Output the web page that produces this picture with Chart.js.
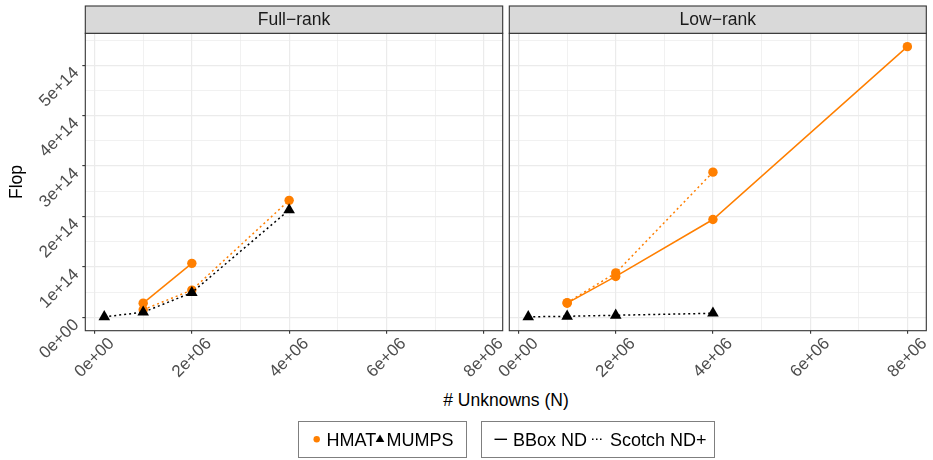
<!DOCTYPE html>
<html><head><meta charset="utf-8">
<script src="https://cdn.jsdelivr.net/npm/chart.js@4/dist/chart.umd.min.js"></script>
<style>
html,body{margin:0;padding:0;background:#fff;}
#wrap{position:relative;width:933px;height:460px;overflow:hidden;font-family:"Liberation Sans",Arial,sans-serif;}
canvas{position:absolute;left:0;top:0;}
.t{position:absolute;white-space:nowrap;font-size:17.5px;line-height:20px;color:#000;}
.lg{font-size:18px;}
.box{position:absolute;border:1.2px solid #7f7f7f;box-sizing:border-box;}
svg{position:absolute;overflow:visible;}
</style></head><body>
<div id="wrap">
<canvas id="c1" width="933" height="390"></canvas>
<canvas id="c2" width="933" height="390"></canvas>
<div class="t" style="left:406px;width:200px;text-align:center;top:389.5px"># Unknowns (N)</div>
<div class="box" style="left:298px;top:420.5px;width:169px;height:37px"></div>
<svg style="left:0;top:0" width="933" height="460">
  <circle cx="316.7" cy="439.3" r="3.2" fill="#FF7F00"/>
  <polygon points="380,434.5 384.3,442 375.7,442" fill="#000"/>
  <line x1="494.5" y1="439.3" x2="507" y2="439.3" stroke="#000" stroke-width="1.4"/>
  <line x1="592" y1="439.3" x2="604" y2="439.3" stroke="#000" stroke-width="1.4" stroke-dasharray="1.5 2.5"/>
</svg>
<div class="t lg" style="left:326.5px;top:429.5px">HMAT</div>
<div class="t lg" style="left:386.5px;top:429.5px">MUMPS</div>
<div class="box" style="left:480.5px;top:420.5px;width:234px;height:37px"></div>
<div class="t lg" style="left:513px;top:429.5px">BBox ND</div>
<div class="t lg" style="left:610px;top:429.5px">Scotch ND+</div>
</div>
<script>
// ---- tick definitions ----
const xMajorTicks = [0, 2e6, 4e6, 6e6, 8e6];
const xTickLabels = ['0e+00', '2e+06', '4e+06', '6e+06', '8e+06'];
const xMinorTicks = [1e6, 3e6, 5e6, 7e6];
const yMajorTicks = [0, 1e14, 2e14, 3e14, 4e14, 5e14];
const yTickLabels = ['0e+00', '1e+14', '2e+14', '3e+14', '4e+14', '5e+14'];
const yMinorTicks = [0.5e14, 1.5e14, 2.5e14, 3.5e14, 4.5e14, 5.5e14];
const panelTitles = ['Full\u2212rank', 'Low\u2212rank'];

// ---- data: Full-rank ----
const fullHmatBboxN = [1e6, 2e6];
const fullHmatBboxFlop = [0.28e14, 1.07e14];
const fullHmatScotchN = [1e6, 2e6, 4e6];
const fullHmatScotchFlop = [0.15e14, 0.54e14, 2.32e14];
const fullMumpsScotchN = [0.2e6, 1e6, 2e6, 4e6];
const fullMumpsScotchFlop = [0.01e14, 0.10e14, 0.49e14, 2.13e14];

// ---- data: Low-rank ----
const lowHmatBboxN = [1e6, 2e6, 4e6, 8e6];
const lowHmatBboxFlop = [0.28e14, 0.81e14, 1.94e14, 5.37e14];
const lowHmatScotchN = [1e6, 2e6, 4e6];
const lowHmatScotchFlop = [0.29e14, 0.88e14, 2.88e14];
const lowMumpsScotchN = [0.2e6, 1e6, 2e6, 4e6];
const lowMumpsScotchFlop = [0.01e14, 0.02e14, 0.04e14, 0.08e14];

const ORANGE = '#FF7F00';
const FONT = '"Liberation Sans", Arial, sans-serif';
const CANVAS_H = 390;

function pts(xs, ys) { return xs.map((x, i) => ({x: x, y: ys[i]})); }
function isIn(v, arr) { return arr.some(m => Math.abs(m - v) < 1e-6 * Math.max(1, Math.abs(m))); }
function labelFor(v, majors, labels) {
  const i = majors.findIndex(m => Math.abs(m - v) < 1e-6 * Math.max(1, Math.abs(m)) || (m === 0 && Math.abs(v) < 1));
  return i >= 0 ? labels[i] : '';
}

function ds(data, color, dashed, marker) {
  return {
    data: data,
    borderColor: color,
    backgroundColor: color,
    borderWidth: 1.5,
    borderDash: dashed ? [2, 3] : [],
    pointStyle: marker,
    pointRadius: marker === 'triangle' ? 6.7 : 4.7,
    pointBorderWidth: 0,
    pointHoverRadius: 0,
    tension: 0,
    fill: false
  };
}

const panelPlugin = {
  id: 'panelDeco',
  afterDraw(chart, args, opts) {
    const ctx = chart.ctx, a = chart.chartArea;
    ctx.save();
    ctx.lineWidth = 1.1;
    ctx.strokeStyle = '#333333';
    ctx.setLineDash([]);
    ctx.strokeRect(a.left, a.top, a.right - a.left, a.bottom - a.top);
    ctx.fillStyle = '#D9D9D9';
    ctx.fillRect(a.left, opts.stripTop, a.right - a.left, a.top - opts.stripTop);
    ctx.strokeRect(a.left, opts.stripTop, a.right - a.left, a.top - opts.stripTop);
    ctx.fillStyle = '#1A1A1A';
    ctx.font = '17.5px ' + FONT;
    ctx.textAlign = 'center';
    ctx.textBaseline = 'middle';
    ctx.fillText(opts.title, (a.left + a.right) / 2, (opts.stripTop + a.top) / 2 + 0.5);
    ctx.restore();
  }
};

function makeChart(id, title, datasets, showYLabels, area) {
  const xTickValues = xMajorTicks.concat(xMinorTicks).sort((a, b) => a - b);
  const yTickValues = yMajorTicks.concat(yMinorTicks).sort((a, b) => a - b);
  return new Chart(document.getElementById(id), {
    type: 'line',
    data: { datasets: datasets },
    options: {
      responsive: false,
      animation: false,
      devicePixelRatio: 1,
      events: [],
      layout: { padding: { top: area.top, left: 0, right: 933 - area.right, bottom: 0 } },
      plugins: {
        legend: { display: false },
        tooltip: { enabled: false },
        panelDeco: { title: title, stripTop: 6 }
      },
      scales: {
        x: {
          type: 'linear',
          min: -0.19e6,
          max: 8.39e6,
          afterBuildTicks: s => { s.ticks = xTickValues.map(v => ({value: v})); },
          afterFit: s => { s.height = CANVAS_H - area.bottom; },
          border: { display: false },
          grid: {
            color: '#EBEBEB',
            lineWidth: c => (c.tick && isIn(c.tick.value, xMajorTicks)) ? 1.2 : 0.7,
            drawTicks: true,
            tickLength: 3,
            tickWidth: 1.1,
            tickColor: c => (c.tick && isIn(c.tick.value, xMajorTicks)) ? '#333333' : 'rgba(0,0,0,0)'
          },
          ticks: {
            autoSkip: false,
            minRotation: 45,
            maxRotation: 45,
            labelOffset: 17,
            padding: 0,
            color: '#4D4D4D',
            font: { family: FONT, size: 17 },
            callback: v => labelFor(v, xMajorTicks, xTickLabels)
          }
        },
        y: {
          type: 'linear',
          min: -0.266e14,
          max: 5.635e14,
          afterBuildTicks: s => { s.ticks = yTickValues.map(v => ({value: v})); },
          afterFit: s => { s.width = area.left; },
          border: { display: false },
          title: {
            display: showYLabels,
            text: 'Flop',
            color: '#000000',
            font: { family: FONT, size: 17.5 },
            padding: { top: 7, bottom: 0 }
          },
          grid: {
            color: '#EBEBEB',
            lineWidth: c => (c.tick && isIn(c.tick.value, yMajorTicks)) ? 1.2 : 0.7,
            drawTicks: showYLabels,
            tickLength: 3,
            tickWidth: 1.1,
            tickColor: c => (c.tick && isIn(c.tick.value, yMajorTicks)) ? '#333333' : 'rgba(0,0,0,0)'
          },
          ticks: {
            display: showYLabels,
            autoSkip: false,
            minRotation: 45,
            maxRotation: 45,
            labelOffset: 5,
            padding: 6,
            color: '#4D4D4D',
            font: { family: FONT, size: 17 },
            callback: v => labelFor(v, yMajorTicks, yTickLabels)
          }
        }
      }
    },
    plugins: [panelPlugin]
  });
}

makeChart('c1', panelTitles[0], [
  ds(pts(fullMumpsScotchN, fullMumpsScotchFlop), '#000000', true, 'triangle'),
  ds(pts(fullHmatScotchN, fullHmatScotchFlop), ORANGE, true, 'circle'),
  ds(pts(fullHmatBboxN, fullHmatBboxFlop), ORANGE, false, 'circle')
], true, { left: 85.3, right: 502.7, top: 33.3, bottom: 330.7 });

makeChart('c2', panelTitles[1], [
  ds(pts(lowMumpsScotchN, lowMumpsScotchFlop), '#000000', true, 'triangle'),
  ds(pts(lowHmatScotchN, lowHmatScotchFlop), ORANGE, true, 'circle'),
  ds(pts(lowHmatBboxN, lowHmatBboxFlop), ORANGE, false, 'circle')
], false, { left: 509.3, right: 927.3, top: 33.3, bottom: 330.7 });
</script>
</body></html>
